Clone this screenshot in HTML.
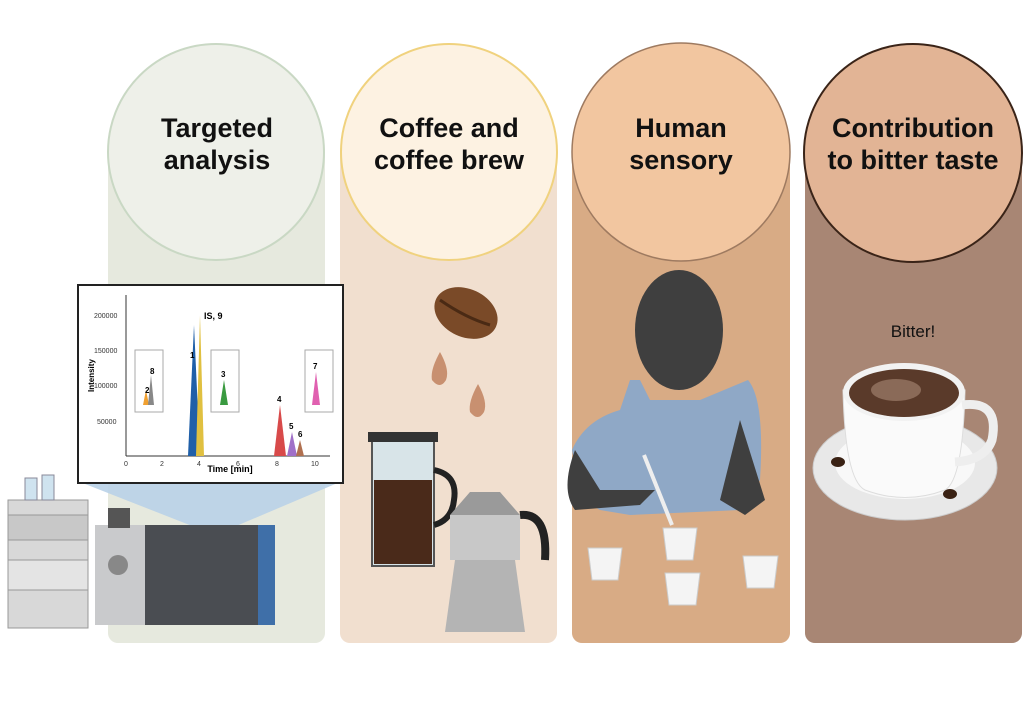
<!DOCTYPE html>
<html><head><meta charset="utf-8"><style>
html,body{margin:0;padding:0;background:#fff;}
svg{display:block}
text{font-family:"Liberation Sans",sans-serif}
</style></head><body>
<svg width="1024" height="717" viewBox="0 0 1024 717" xmlns="http://www.w3.org/2000/svg">
<rect width="1024" height="717" fill="#fff"/>
<rect x="108" y="140" width="217" height="503" rx="10" fill="#e6e9de"/>
<rect x="340" y="140" width="217" height="503" rx="10" fill="#f1dfcf"/>
<rect x="572" y="140" width="218" height="503" rx="10" fill="#d8ab85"/>
<rect x="805" y="140" width="217" height="503" rx="10" fill="#a88674"/>
<circle cx="216" cy="152" r="108" fill="#eef0e9" stroke="#c9d8c4" stroke-width="2"/>
<circle cx="449" cy="152" r="108" fill="#fdf2e2" stroke="#f0d27e" stroke-width="2"/>
<circle cx="681" cy="152" r="109" fill="#f2c6a0" stroke="#9e7a60" stroke-width="1.5"/>
<circle cx="913" cy="153" r="109" fill="#e2b495" stroke="#3a2418" stroke-width="2"/>
<g font-weight="bold" font-size="27" fill="#111" text-anchor="middle">
<text x="217" y="137">Targeted</text><text x="217" y="169">analysis</text>
<text x="449" y="137">Coffee and</text><text x="449" y="169">coffee brew</text>
<text x="681" y="137">Human</text><text x="681" y="169">sensory</text>
<text x="913" y="137">Contribution</text><text x="913" y="169">to bitter taste</text>
</g>
<polygon points="80,482 340,482 215,535" fill="#b9d2e8" opacity="0.9"/>
<rect x="8" y="500" width="80" height="128" fill="#d8d8d8" stroke="#999"/>
<rect x="8" y="515" width="80" height="25" fill="#c8c8c8" stroke="#999"/>
<rect x="8" y="560" width="80" height="30" fill="#e4e4e4" stroke="#999"/>
<rect x="25" y="478" width="12" height="22" fill="#cfe3ef" stroke="#889"/>
<rect x="42" y="475" width="12" height="25" fill="#cfe3ef" stroke="#889"/>
<rect x="95" y="525" width="180" height="100" fill="#4a4d52"/>
<rect x="95" y="525" width="50" height="100" fill="#c9cacc"/>
<rect x="258" y="525" width="17" height="100" fill="#3f6fa8"/>
<rect x="108" y="508" width="22" height="20" fill="#555"/>
<circle cx="118" cy="565" r="10" fill="#888"/>
<rect x="78" y="285" width="265" height="198" fill="#fff" stroke="#222" stroke-width="2"/>
<g font-size="7" fill="#333">
<text x="94" y="318">200000</text><text x="94" y="353">150000</text><text x="94" y="388">100000</text><text x="97" y="424">50000</text>
<text x="124" y="466">0</text><text x="160" y="466">2</text><text x="197" y="466">4</text><text x="236" y="466">6</text><text x="275" y="466">8</text><text x="311" y="466">10</text>
</g>
<text x="230" y="472" font-size="9" font-weight="bold" text-anchor="middle">Time [min]</text>
<text x="94" y="392" font-size="8" font-weight="bold" transform="rotate(-90 94 392)">Intensity</text>
<line x1="126" y1="295" x2="126" y2="456" stroke="#333"/><line x1="126" y1="456" x2="330" y2="456" stroke="#333"/>
<path d="M188,456 L194,325 L200,456" fill="#1f5fa8"/>
<path d="M196,456 L200,315 L204,456" fill="#e0c040"/>
<text x="204" y="319" font-size="9" font-weight="bold">IS, 9</text>
<text x="190" y="358" font-size="8" font-weight="bold">1</text>
<path d="M274,456 L280,405 L286,456" fill="#d84a4a"/><text x="277" y="402" font-size="8" font-weight="bold">4</text>
<path d="M287,456 L292,432 L297,456" fill="#a070c8"/><text x="289" y="429" font-size="8" font-weight="bold">5</text>
<path d="M296,456 L300,440 L304,456" fill="#b07050"/><text x="298" y="437" font-size="8" font-weight="bold">6</text>
<rect x="135" y="350" width="28" height="62" fill="#fff" stroke="#aaa"/>
<path d="M143,405 L146,390 L149,405" fill="#f0a030"/><path d="M148,405 L151,375 L154,405" fill="#888"/>
<text x="145" y="393" font-size="8" font-weight="bold">2</text><text x="150" y="374" font-size="8" font-weight="bold">8</text>
<rect x="211" y="350" width="28" height="62" fill="#fff" stroke="#aaa"/>
<path d="M220,405 L224,380 L228,405" fill="#3a9a40"/><text x="221" y="377" font-size="8" font-weight="bold">3</text>
<rect x="305" y="350" width="28" height="62" fill="#fff" stroke="#aaa"/>
<path d="M312,405 L316,372 L320,405" fill="#e060b0"/><text x="313" y="369" font-size="8" font-weight="bold">7</text>
<ellipse cx="466" cy="313" rx="33" ry="24" fill="#7a4a28" transform="rotate(25 466 313)"/>
<path d="M440,300 Q466,318 490,325" stroke="#4a2a14" stroke-width="3" fill="none"/>
<path d="M440,352 Q450,370 446,380 Q440,390 432,380 Q430,370 440,352Z" fill="#c89070"/>
<path d="M478,384 Q488,402 484,412 Q478,422 470,412 Q468,402 478,384Z" fill="#c89070"/>
<rect x="372" y="438" width="62" height="128" fill="#d8e4e8" stroke="#555" stroke-width="2"/>
<rect x="374" y="480" width="58" height="84" fill="#4a2a1a"/>
<rect x="368" y="432" width="70" height="10" fill="#333"/>
<path d="M434,470 Q458,475 454,500 Q452,520 434,525" stroke="#222" stroke-width="6" fill="none"/>
<path d="M450,515 L470,492 L500,492 L520,515 Z" fill="#9a9a9a"/>
<rect x="450" y="515" width="70" height="45" fill="#c8c8c8"/>
<path d="M455,560 L515,560 L525,632 L445,632Z" fill="#b4b4b4"/>
<path d="M520,515 Q548,512 545,560" stroke="#222" stroke-width="8" fill="none"/>
<path d="M572,450 Q585,420 620,410 L630,380 L640,380 L650,400 L700,400 L748,380 Q765,400 760,480 L740,510 L630,515 L600,510 Q580,500 572,450Z" fill="#8fa8c6"/>
<ellipse cx="679" cy="330" rx="44" ry="60" fill="#3f3f3f"/>
<path d="M575,450 Q560,490 575,510 L640,505 L655,490 L600,490 Z" fill="#3f3f3f"/>
<path d="M740,420 L765,500 L745,515 L720,500Z" fill="#3f3f3f"/>
<line x1="644" y1="455" x2="672" y2="525" stroke="#eee" stroke-width="4"/>
<g fill="#f4f4f4" stroke="#ccc">
<path d="M588,548 L622,548 L618,580 L592,580Z"/>
<path d="M663,528 L697,528 L693,560 L667,560Z"/>
<path d="M665,573 L700,573 L696,605 L669,605Z"/>
<path d="M743,556 L778,556 L774,588 L747,588Z"/>
</g>
<text x="913" y="337" font-size="17" fill="#111" text-anchor="middle">Bitter!</text>
<ellipse cx="905" cy="468" rx="92" ry="52" fill="#e8e8e8" stroke="#ccc"/>
<ellipse cx="905" cy="463" rx="70" ry="36" fill="#f8f8f8"/>
<path d="M843,390 Q845,480 865,490 Q905,505 945,490 Q963,480 965,390Z" fill="#fafafa" stroke="#ddd"/>
<path d="M962,405 Q1000,400 992,440 Q985,460 955,462" stroke="#eee" stroke-width="9" fill="none"/>
<ellipse cx="904" cy="392" rx="61" ry="29" fill="#f2f2f2"/>
<ellipse cx="904" cy="393" rx="55" ry="24" fill="#5a3a2a"/>
<ellipse cx="896" cy="390" rx="25" ry="11" fill="#8a6a58"/>
<ellipse cx="838" cy="462" rx="7" ry="5" fill="#3a2214"/>
<ellipse cx="950" cy="494" rx="7" ry="5" fill="#3a2214"/>
</svg>
</body></html>
